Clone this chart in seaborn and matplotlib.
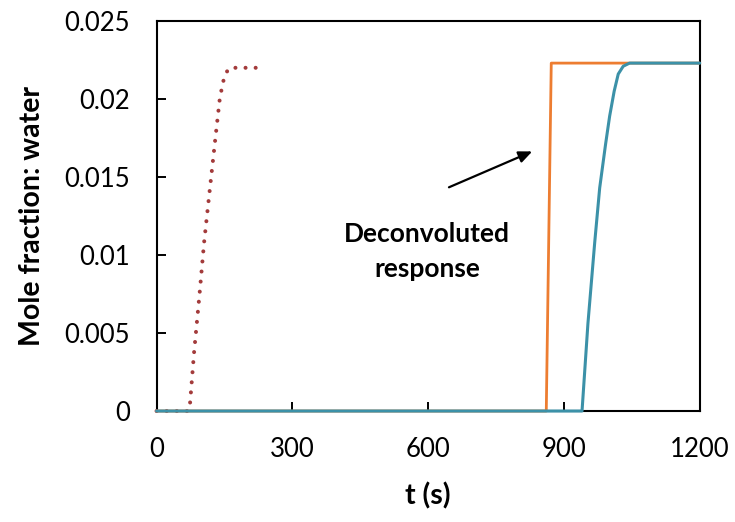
import matplotlib
matplotlib.use("Agg")
import matplotlib.pyplot as plt
import seaborn as sns
import pandas as pd

# measured (dotted) response
t_meas = [0, 40, 70, 74, 83, 95, 105, 118, 130, 140, 148, 153, 158, 163, 200, 232]
y_meas = [0, 0, 0, 0.0005, 0.0038, 0.0075, 0.0108, 0.0143, 0.0175, 0.0201, 0.0212, 0.0216, 0.0219, 0.0220, 0.0220, 0.0220]

# deconvoluted response (orange)
t_dec = [0, 861, 872, 1200]
y_dec = [0, 0, 0.0223, 0.0223]

# outlet response (teal)
t_out = [0, 940, 953, 968, 979, 992, 1001, 1011, 1020, 1031, 1045, 1200]
y_out = [0, 0, 0.0056, 0.0108, 0.0143, 0.0171, 0.0189, 0.0205, 0.0216, 0.0221, 0.0223, 0.0223]

x_ticks = [0, 300, 600, 900, 1200]
y_ticks = [0, 0.005, 0.01, 0.015, 0.02, 0.025]
y_tick_labels = ["0", "0.005", "0.01", "0.015", "0.02", "0.025"]

sns.set_style("white")
plt.rcParams["font.family"] = ["Lato", "DejaVu Sans"]
plt.rcParams["text.color"] = "black"
plt.rcParams["axes.labelcolor"] = "black"
plt.rcParams["xtick.color"] = "black"
plt.rcParams["ytick.color"] = "black"

fig = plt.figure(figsize=(7.35, 5.22), dpi=100)
ax = fig.add_axes([0.213, 0.2126, 0.739, 0.7472])

df_m = pd.DataFrame({"t": t_meas, "y": y_meas})
df_d = pd.DataFrame({"t": t_dec, "y": y_dec})
df_o = pd.DataFrame({"t": t_out, "y": y_out})

sns.lineplot(data=df_m, x="t", y="y", ax=ax, color="#A33B3B", linewidth=2.9,
             linestyle=(0, (0.01, 2.5)), dash_capstyle="round", sort=False)
sns.lineplot(data=df_d, x="t", y="y", ax=ax, color="#ED7D31", linewidth=2.0, sort=False)
sns.lineplot(data=df_o, x="t", y="y", ax=ax, color="#3C91A8", linewidth=2.2, sort=False)

for ln in ax.get_lines():
    ln.set_clip_on(False)
    ln.set_zorder(3)
    ln.set_solid_joinstyle("round")

ax.set_xlim(0, 1200)
ax.set_ylim(0, 0.025)
ax.set_xticks(x_ticks)
ax.set_xticklabels([str(v) for v in x_ticks])
ax.set_yticks(y_ticks)
ax.set_yticklabels(y_tick_labels)

for s in ax.spines.values():
    s.set_visible(True)
    s.set_color("black")
    s.set_linewidth(1.5)
    s.set_zorder(2.5)

ax.tick_params(axis="both", direction="in", length=6.5, width=1.4, color="black",
               labelcolor="black", labelsize=18.5, pad=19)
ax.tick_params(axis="x", top=False, bottom=True)
ax.tick_params(axis="y", left=True, right=False)

ax.set_xlabel("t (s)", fontsize=20.5, fontweight="bold", labelpad=14)
ax.set_ylabel("Mole fraction: water", fontsize=20.5, fontweight="bold", labelpad=14)

ax.annotate("", xy=(830, 0.01664), xytext=(646, 0.01434),
            arrowprops=dict(arrowstyle="-|>,head_length=0.8,head_width=0.35",
                            color="black", lw=1.6, shrinkA=0, shrinkB=0))
ax.text(598, 0.0102, "Deconvoluted\nresponse", ha="center", va="center",
        fontsize=19, fontweight="bold", linespacing=1.55)

fig.savefig("out.png", dpi=100)
